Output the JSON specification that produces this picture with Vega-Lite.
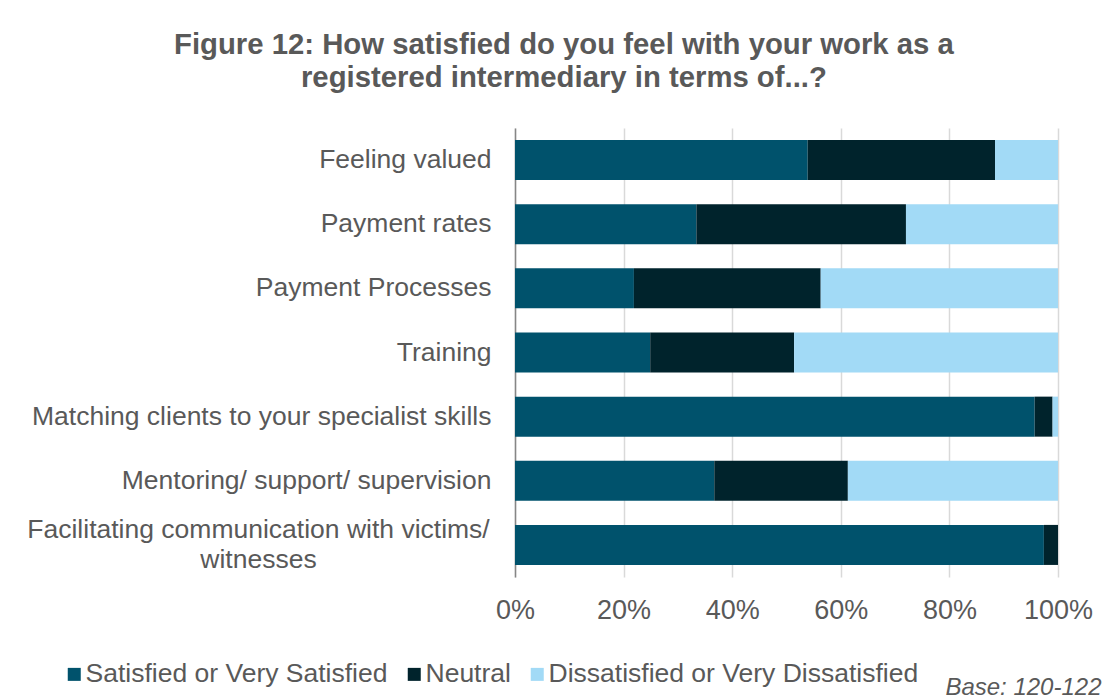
{
  "$schema": "https://vega.github.io/schema/vega-lite/v6.json",
  "width": 543,
  "height": 449,
  "autosize": {"type": "none"},
  "padding": {"left": 515, "top": 128, "right": 55, "bottom": 123},
  "background": "white",
  "title": {
    "text": ["Figure 12: How satisfied do you feel with your work as a", "registered intermediary in terms of...?"],
    "font": "Liberation Sans",
    "fontSize": 29.3,
    "fontWeight": "bold",
    "color": "#595959",
    "anchor": "middle",
    "frame": "bounds",
    "offset": 35,
    "lineHeight": 33
  },
  "data": {
    "values": [
      {"item": "Feeling valued", "status": "Satisfied or Very Satisfied", "share": 0.539},
      {"item": "Feeling valued", "status": "Neutral", "share": 0.345},
      {"item": "Feeling valued", "status": "Dissatisfied or Very Dissatisfied", "share": 0.116},
      {"item": "Payment rates", "status": "Satisfied or Very Satisfied", "share": 0.334},
      {"item": "Payment rates", "status": "Neutral", "share": 0.386},
      {"item": "Payment rates", "status": "Dissatisfied or Very Dissatisfied", "share": 0.28},
      {"item": "Payment Processes", "status": "Satisfied or Very Satisfied", "share": 0.219},
      {"item": "Payment Processes", "status": "Neutral", "share": 0.344},
      {"item": "Payment Processes", "status": "Dissatisfied or Very Dissatisfied", "share": 0.437},
      {"item": "Training", "status": "Satisfied or Very Satisfied", "share": 0.249},
      {"item": "Training", "status": "Neutral", "share": 0.265},
      {"item": "Training", "status": "Dissatisfied or Very Dissatisfied", "share": 0.486},
      {"item": "Matching clients to your specialist skills", "status": "Satisfied or Very Satisfied", "share": 0.957},
      {"item": "Matching clients to your specialist skills", "status": "Neutral", "share": 0.033},
      {"item": "Matching clients to your specialist skills", "status": "Dissatisfied or Very Dissatisfied", "share": 0.01},
      {"item": "Mentoring/ support/ supervision", "status": "Satisfied or Very Satisfied", "share": 0.367},
      {"item": "Mentoring/ support/ supervision", "status": "Neutral", "share": 0.246},
      {"item": "Mentoring/ support/ supervision", "status": "Dissatisfied or Very Dissatisfied", "share": 0.387},
      {"item": "Facilitating communication with victims/ witnesses", "status": "Satisfied or Very Satisfied", "share": 0.974},
      {"item": "Facilitating communication with victims/ witnesses", "status": "Neutral", "share": 0.026},
      {"item": "Facilitating communication with victims/ witnesses", "status": "Dissatisfied or Very Dissatisfied", "share": 0.0}
    ]
  },
  "mark": {"type": "bar"},
  "encoding": {
    "y": {
      "field": "item",
      "type": "nominal",
      "sort": ["Feeling valued", "Payment rates", "Payment Processes", "Training", "Matching clients to your specialist skills", "Mentoring/ support/ supervision", "Facilitating communication with victims/ witnesses"],
      "scale": {"paddingInner": 0.376, "paddingOuter": 0.188},
      "axis": {
        "title": null,
        "ticks": false,
        "domain": true,
        "domainColor": "#868686",
        "domainWidth": 1.5,
        "labelFont": "Liberation Sans",
        "labelFontSize": 26.5,
        "labelColor": "#595959",
        "labelPadding": {"condition": {"test": "datum.value == 'Facilitating communication with victims/ witnesses'", "value": 257}, "value": 24},
        "labelAlign": {"condition": {"test": "datum.value == 'Facilitating communication with victims/ witnesses'", "value": "center"}, "value": "right"},
        "labelLimit": 0,
        "labelLineHeight": 30,
        "labelOffset": {"condition": {"test": "datum.value == 'Facilitating communication with victims/ witnesses'", "value": -15}, "value": 0},
        "labelExpr": "datum.label == 'Facilitating communication with victims/ witnesses' ? ['Facilitating communication with victims/', 'witnesses'] : datum.label"
      }
    },
    "x": {
      "field": "share",
      "type": "quantitative",
      "stack": "zero",
      "scale": {"domain": [0, 1], "nice": false, "zero": true},
      "axis": {
        "title": "Base: 120-122",
        "titleFont": "Liberation Sans",
        "titleFontSize": 24,
        "titleFontStyle": "italic",
        "titleFontWeight": "normal",
        "titleColor": "#595959",
        "titleAnchor": null,
        "titleAlign": "right",
        "titleBaseline": "alphabetic",
        "titleX": 586,
        "titleY": 117,
        "values": [0, 0.2, 0.4, 0.6, 0.8, 1],
        "format": ".0%",
        "domain": false,
        "ticks": false,
        "grid": true,
        "gridColor": "#d9d9d9",
        "gridWidth": 1.5,
        "labelFont": "Liberation Sans",
        "labelFontSize": 27,
        "labelColor": "#595959",
        "labelPadding": 20,
        "labelFlush": false
      }
    },
    "color": {
      "field": "status",
      "type": "nominal",
      "scale": {
        "domain": ["Satisfied or Very Satisfied", "Neutral", "Dissatisfied or Very Dissatisfied"],
        "range": ["#00526C", "#00232C", "#A2DAF6"]
      },
      "legend": {
        "title": null,
        "orient": "none",
        "direction": "horizontal",
        "legendX": -454,
        "legendY": 533,
        "symbolType": "square",
        "symbolSize": 169,
        "symbolStrokeWidth": 0,
        "labelFont": "Liberation Sans",
        "labelFontSize": 26.5,
        "labelColor": "#595959",
        "labelOffset": -2,
        "labelLimit": 0,
        "columnPadding": 13
      }
    },
    "order": {"field": "status", "sort": "descending"}
  },
  "config": {
    "view": {"stroke": null}
  }
}
